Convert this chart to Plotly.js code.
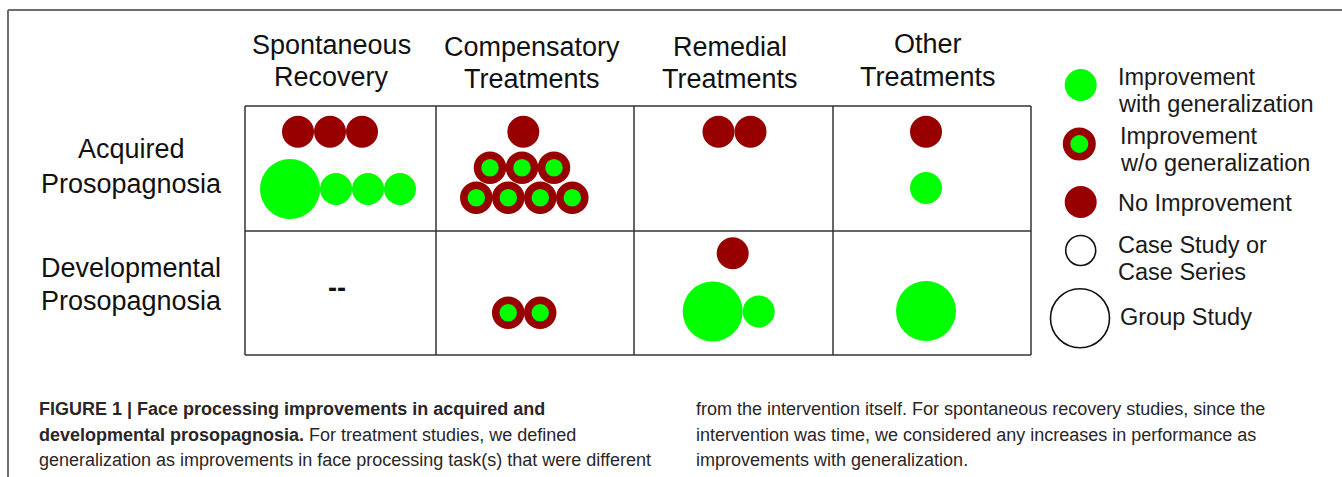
<!DOCTYPE html>
<html>
<head>
<meta charset="utf-8">
<script src="https://cdn.plot.ly/plotly-3.0.1.min.js"></script>
<style>html,body{margin:0;padding:0;background:#fff;}#chart{width:1342px;height:477px;}</style>
</head>
<body>
<div id="chart"></div>
<script>
// ---------------- DATA ----------------
const columnLabels = ["Spontaneous<br>Recovery", "Compensatory<br>Treatments", "Remedial<br>Treatments", "Other<br>Treatments"];
const rowLabels = ["Acquired<br>Prosopagnosia", "Developmental<br>Prosopagnosia"];
const outcomeLabels = ["No Improvement", "Improvement<br>w/o generalization", "Improvement<br>with generalization"];
const designLabels = ["Case Study or<br>Case Series", "Group Study"];

// number of studies per cell, [row][column]
const noImprovementCase   = [[3, 1, 2, 1], [0, 0, 1, 0]];
const withoutGenCase      = [[0, 7, 0, 0], [0, 2, 0, 0]];
const withGenGroup        = [[1, 0, 0, 0], [0, 0, 1, 1]];
const withGenCase         = [[3, 0, 0, 1], [0, 0, 1, 0]];

const captionCol1 = [
  "<b>FIGURE 1 | Face processing improvements in acquired and</b>",
  "<b>developmental prosopagnosia.</b> For treatment studies, we defined",
  "generalization as improvements in face processing task(s) that were different"
];
const captionCol2 = [
  "from the intervention itself. For spontaneous recovery studies, since the",
  "intervention was time, we considered any increases in performance as",
  "improvements with generalization."
];

// ---------------- LAYOUT CONFIG (positions / styles) ----------------
const W = 1342, H = 477;
const colEdges = [245, 436, 634, 833, 1031];
const rowEdges = [106, 231, 355];
const headerPos = [[331, 45, 77], [532, 47, 79], [730, 47, 79], [928, 44, 77]];
const rowLabelPos = [[131, 149, 184], [131, 268, 301]];
// placement of each outcome line within each cell: [outcome] -> list of [cx, cy] (sub-rows)
const placement = {
  "0,0": [[[330, 131.7]], null, [[338, 189]]],
  "0,1": [[[523.3, 131.7]], [[522, 167.7], [524.3, 197.7]], null],
  "0,2": [[[734.5, 131.7]], null, null],
  "0,3": [[[926, 131.7]], null, [[926, 188]]],
  "1,0": [null, null, null],
  "1,1": [null, [[524.2, 312.7]], null],
  "1,2": [[[732.7, 253.3]], null, [[728.7, 311.5]]],
  "1,3": [null, null, [[926, 311]]]
};
const emptyMarkPos = {"1,0": [337, 288]};
const RED = "#980000", GREEN = "#00ff00";
const CASE_R = 16, GROUP_R = 30;
const FONT = "Liberation Sans, Arial, Helvetica, sans-serif";

// ---------------- BUILD ----------------
const markers = {0: {x: [], y: [], s: []}, 1: {x: [], y: [], s: []}, 2: {x: [], y: [], s: []}};
const annotations = [];

function placeLine(outcome, radii, cx, cy) {
  const total = radii.reduce((a, r) => a + 2 * r, 0);
  let x = cx - total / 2;
  radii.forEach(r => {
    markers[outcome].x.push(x + r);
    markers[outcome].y.push(cy);
    markers[outcome].s.push(r);
    x += 2 * r;
  });
}

for (let r = 0; r < rowLabels.length; r++) {
  for (let c = 0; c < columnLabels.length; c++) {
    const key = r + "," + c;
    const lists = [
      Array(noImprovementCase[r][c]).fill(CASE_R),
      Array(withoutGenCase[r][c]).fill(CASE_R),
      Array(withGenGroup[r][c]).fill(GROUP_R).concat(Array(withGenCase[r][c]).fill(CASE_R))
    ];
    const total = lists.reduce((a, l) => a + l.length, 0);
    if (total === 0 && emptyMarkPos[key]) {
      annotations.push({x: emptyMarkPos[key][0], y: emptyMarkPos[key][1], text: "<b>--</b>", showarrow: false,
        font: {family: FONT, size: 27, color: "#111"}, xanchor: "center", yanchor: "middle"});
      continue;
    }
    lists.forEach((radii, o) => {
      if (!radii.length) return;
      const pl = placement[key][o];
      if (pl.length === 1) {
        placeLine(o, radii, pl[0][0], pl[0][1]);
      } else {
        const first = Math.floor(radii.length / 2);
        placeLine(o, radii.slice(0, first), pl[0][0], pl[0][1]);
        placeLine(o, radii.slice(first), pl[1][0], pl[1][1]);
      }
    });
  }
}

const traces = [
  {type: "scatter", mode: "markers", x: markers[0].x, y: markers[0].y, hoverinfo: "skip",
   marker: {color: RED, opacity: 1, size: markers[0].s.map(r => 2 * r), line: {width: 0}}},
  {type: "scatter", mode: "markers", x: markers[1].x, y: markers[1].y, hoverinfo: "skip",
   marker: {color: GREEN, opacity: 1, size: markers[1].s.map(r => 2 * r - 7), line: {width: 7.5, color: RED}}},
  {type: "scatter", mode: "markers", x: markers[2].x, y: markers[2].y, hoverinfo: "skip",
   marker: {color: GREEN, opacity: 1, size: markers[2].s.map(r => 2 * r), line: {width: 0}}}
];

// legend
const legendSym = [
  {x: 1080.7, y: 85, color: GREEN, size: 32, line: {width: 0}},
  {x: 1079.3, y: 144, color: GREEN, size: 25.5, line: {width: 7.5, color: RED}},
  {x: 1080.7, y: 202, color: RED, size: 32, line: {width: 0}},
  {x: 1080.7, y: 250.5, color: "#fff", size: 30, line: {width: 1.6, color: "#111"}},
  {x: 1080, y: 318.3, color: "#fff", size: 59, line: {width: 1.6, color: "#111"}}
];
legendSym.forEach(s => traces.push({type: "scatter", mode: "markers", x: [s.x], y: [s.y], hoverinfo: "skip",
  cliponaxis: false, marker: {color: s.color, opacity: 1, size: s.size, line: s.line}}));

const legendText = [
  [outcomeLabels[2], 1116, [77, 104]],
  [outcomeLabels[1], 1118, [136, 163]],
  [outcomeLabels[0], 1116, [203]],
  [designLabels[0], 1116, [245, 272]],
  [designLabels[1], 1118, [317]]
];
legendText.forEach(([txt, x, ys]) => {
  txt.split("<br>").forEach((line, i) => annotations.push({x: x, y: ys[i], text: line, showarrow: false,
    xanchor: "left", yanchor: "middle", font: {family: FONT, size: 23.5, color: "#1a1a1a"}}));
});

columnLabels.forEach((lab, i) => {
  lab.split("<br>").forEach((line, j) => annotations.push({x: headerPos[i][0], y: headerPos[i][1 + j], text: line,
    showarrow: false, xanchor: "center", yanchor: "middle", font: {family: FONT, size: 27, color: "#111"}}));
});
rowLabels.forEach((lab, i) => {
  lab.split("<br>").forEach((line, j) => annotations.push({x: rowLabelPos[i][0], y: rowLabelPos[i][1 + j], text: line,
    showarrow: false, xanchor: "center", yanchor: "middle", font: {family: FONT, size: 27, color: "#111"}}));
});

const capY = [409, 435, 460];
captionCol1.forEach((t, i) => annotations.push({x: 37, y: capY[i], text: t, showarrow: false, xanchor: "left",
  yanchor: "middle", font: {family: FONT, size: 18, color: "#2a2627"}}));
captionCol2.forEach((t, i) => annotations.push({x: 694, y: capY[i], text: t, showarrow: false, xanchor: "left",
  yanchor: "middle", font: {family: FONT, size: 18, color: "#2a2627"}}));

const shapes = [];
colEdges.forEach(x => shapes.push({type: "line", x0: x, x1: x, y0: rowEdges[0], y1: rowEdges[2],
  line: {color: "#333", width: 1.5}, layer: "below"}));
rowEdges.forEach(y => shapes.push({type: "line", x0: colEdges[0], x1: colEdges[4], y0: y, y1: y,
  line: {color: "#333", width: 1.5}, layer: "below"}));
shapes.push({type: "line", x0: 8, x1: W, y0: 10, y1: 10, line: {color: "#6e6e6e", width: 2}});
shapes.push({type: "line", x0: 8, x1: 8, y0: 10, y1: H, line: {color: "#6e6e6e", width: 2}});

const layout = {
  width: W, height: H,
  margin: {l: 0, r: 0, t: 0, b: 0},
  paper_bgcolor: "#fff", plot_bgcolor: "#fff",
  showlegend: false,
  xaxis: {range: [0, W], visible: false, fixedrange: true},
  yaxis: {range: [H, 0], visible: false, fixedrange: true},
  shapes: shapes,
  annotations: annotations
};
Plotly.newPlot("chart", traces, layout, {displayModeBar: false, staticPlot: true});
</script>
</body>
</html>
